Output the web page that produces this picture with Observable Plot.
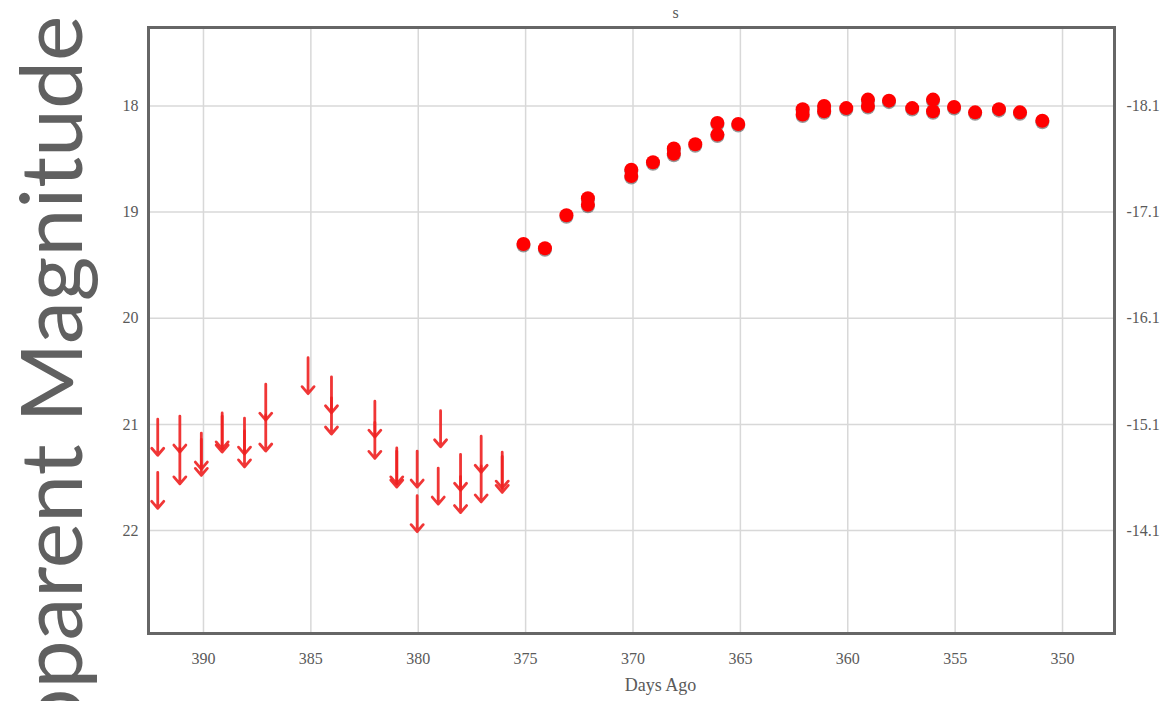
<!DOCTYPE html>
<html>
<head>
<meta charset="utf-8">
<script src="https://cdn.jsdelivr.net/npm/d3@7"></script>
<script src="https://cdn.jsdelivr.net/npm/@observablehq/plot@0.6"></script>
<style>
  html, body { margin: 0; padding: 0; background: #fff; }
  #chart svg { display: block; }
</style>
</head>
<body>
<div id="chart"></div>
<script>
// Detections (days ago, apparent magnitude)
const detDays = [375.1, 374.1, 373.1, 372.1, 372.1, 370.08, 370.08, 369.07, 368.1, 368.1, 367.1, 366.07, 366.07, 365.1,
  362.1, 362.1, 361.1, 361.1, 360.07, 359.06, 359.06, 358.08, 357.0, 356.03, 356.03, 355.05, 354.07, 352.96, 351.98, 350.94];
const detMags = [19.30, 19.34, 19.03, 18.87, 18.93, 18.60, 18.66, 18.53, 18.40, 18.45, 18.36, 18.16, 18.27, 18.17,
  18.03, 18.08, 18.00, 18.05, 18.02, 17.94, 18.00, 17.95, 18.02, 17.94, 18.05, 18.01, 18.06, 18.03, 18.06, 18.14];

// Upper limits (days ago, limiting magnitude)
const limDays = [392.13, 392.13, 391.1, 391.1, 390.1, 390.1, 389.13, 389.13, 388.09, 388.09, 387.1, 387.1, 385.13,
  384.04, 384.04, 382.02, 382.02, 381.0, 381.0, 380.05, 380.05, 378.96, 379.07, 378.03, 378.03, 377.07, 377.07, 376.09, 376.09];
const limMags = [21.29, 21.79, 21.26, 21.56, 21.42, 21.48, 21.23, 21.26, 21.28, 21.40, 20.96, 21.25, 20.71,
  20.89, 21.09, 21.12, 21.32, 21.56, 21.59, 21.59, 22.01, 21.21, 21.75, 21.62, 21.83, 21.45, 21.73, 21.60, 21.64];

// Axes
const xTicks = [390, 385, 380, 375, 370, 365, 360, 355, 350];
const yTicks = [18, 19, 20, 21, 22];
const rightTickLabels = ["-18.1", "-17.1", "-16.1", "-15.1", "-14.1"];
const titleText = "s";
const xLabel = "Days Ago";
const yLabel = "Apparent Magnitude";

const detections = detDays.map((d, i) => ({day: d, mag: detMags[i]}));
const limits = limDays.map((d, i) => ({day: d, mag: limMags[i]}));

const downArrow = {
  draw(context, l) {
    context.moveTo(0, 0);
    context.lineTo(0, -l);
    context.moveTo(-6, -l + 7);
    context.lineTo(0, -l);
    context.lineTo(6, -l + 7);
  }
};

const serif = "'Liberation Serif', 'Times New Roman', serif";

const chart = Plot.plot({
  width: 1176,
  height: 701,
  marginLeft: 148,
  marginRight: 62,
  marginTop: 27,
  marginBottom: 68,
  style: {fontFamily: serif, fontSize: "16px", color: "#5a5a5a", background: "#fff"},
  x: {domain: [392.56, 347.58], label: null},
  y: {domain: [17.261, 22.969], reverse: true, label: null},
  marks: [
    Plot.gridX(xTicks, {stroke: "#d8d8d8", strokeOpacity: 1, strokeWidth: 1.5}),
    Plot.gridY(yTicks, {stroke: "#d8d8d8", strokeOpacity: 1, strokeWidth: 1.5}),
    Plot.axisX({ticks: xTicks, tickSize: 0, tickPadding: 19, label: null, fontSize: 16}),
    Plot.axisY({ticks: yTicks, tickSize: 0, tickPadding: 10, label: null, fontSize: 16, tickFormat: "d"}),
    Plot.axisY({ticks: yTicks, anchor: "right", tickSize: 0, tickPadding: 12, label: null, fontSize: 16,
      tickFormat: (d, i) => rightTickLabels[i]}),
    Plot.vector(limits, {x: "day", y: "mag", length: 36, rotate: 180, anchor: "end", shape: downArrow,
      stroke: "#ee2020", strokeWidth: 2.8, strokeOpacity: 0.9}),
    Plot.dot(detections, {x: "day", y: "mag", r: 7, fill: "#444", fillOpacity: 0.55, dy: 1.5}),
    Plot.dot(detections, {x: "day", y: "mag", r: 7, fill: "#ff0000"}),
    Plot.frame({stroke: "#666", strokeWidth: 3}),
    Plot.text([titleText], {frameAnchor: "top", dx: 44, dy: -21, fontSize: 16, fill: "#5a5a5a"}),
    Plot.text([xLabel], {frameAnchor: "bottom", dx: 29, dy: 57, fontSize: 18, fill: "#5a5a5a"}),
    Plot.text([yLabel], {frameAnchor: "top-left", rotate: -90, textAnchor: "end", lineAnchor: "bottom",
      dx: -67, dy: -12, fontSize: 86, fontFamily: "Lato", fill: "#606060"})
  ]
});
document.getElementById("chart").appendChild(chart);
</script>
</body>
</html>
